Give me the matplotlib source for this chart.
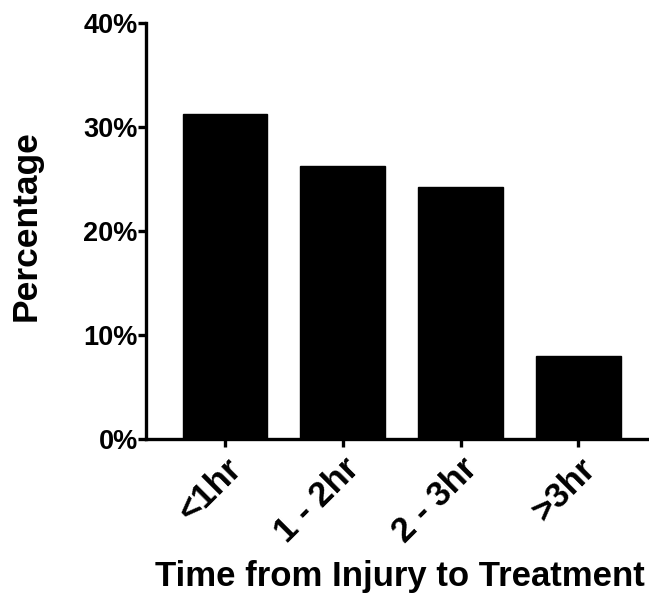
import matplotlib
matplotlib.use("Agg")
import matplotlib.pyplot as plt
from matplotlib.ticker import FuncFormatter
from matplotlib.transforms import ScaledTranslation

# data
categories = ["<1hr", "1 - 2hr", "2 - 3hr", ">3hr"]
percentages = [31.2, 26.2, 24.2, 8.0]

plt.rcParams['font.family'] = ['Liberation Sans', 'DejaVu Sans']
plt.rcParams['font.weight'] = 'bold'

fig = plt.figure(figsize=(6.49, 6.00), dpi=100)
ax = fig.add_axes([0.225, 0.268, 0.775, 0.694])

x = range(len(categories))
ax.bar(x, percentages, width=0.72, color="black", edgecolor="black")

ax.set_ylim(0, 40)
ax.set_xlim(-0.67, 3.6)
ax.set_yticks([0, 10, 20, 30, 40])
ax.yaxis.set_major_formatter(FuncFormatter(lambda v, p: f"{v:.0f}%"))
ax.set_xticks(list(x))
ax.set_xticklabels(categories, rotation=45, ha="right", rotation_mode="anchor",
                   fontsize=25, fontweight="bold")
# nudge the slanted labels a little to the left
shift = ScaledTranslation(-9 / 100, 0, fig.dpi_scale_trans)
for lbl in ax.get_xticklabels():
    lbl.set_transform(lbl.get_transform() + shift)
for lbl in ax.get_yticklabels():
    lbl.set_fontsize(19.5)
    lbl.set_fontweight("bold")

ax.spines['top'].set_visible(False)
ax.spines['right'].set_visible(False)
ax.spines['left'].set_linewidth(2.4)
ax.spines['bottom'].set_linewidth(2.4)
ax.tick_params(axis='both', width=2.4, length=6, direction='out')
ax.tick_params(axis='x', pad=3)
ax.tick_params(axis='y', pad=0)

ax.set_ylabel("Percentage", fontsize=25.5, fontweight="bold")
ax.yaxis.set_label_coords(-0.205, 0.514)
ax.set_xlabel("Time from Injury to Treatment", fontsize=25, fontweight="bold")
ax.xaxis.set_label_coords(0.504, -0.29)

fig.savefig("out.png", dpi=100)
